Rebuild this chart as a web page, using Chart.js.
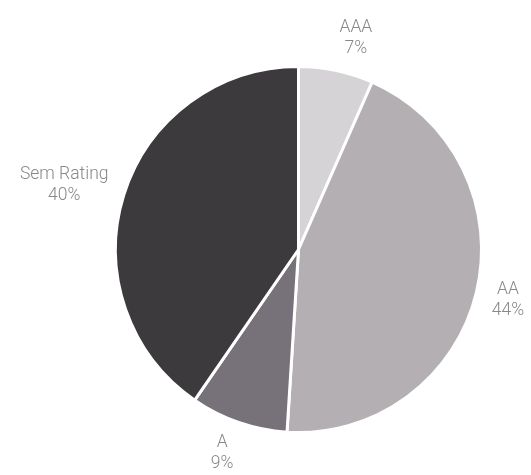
<!DOCTYPE html>
<html lang="pt">
<head>
    <meta charset="UTF-8">
    <title>Rating</title>
    <script src="https://cdn.jsdelivr.net/npm/chart.js"></script>
    <style>
        body {
            margin: 0;
            background: #fff;
        }
        canvas {
            display: block;
        }
    </style>
</head>
<body>
    <canvas id="ratingChart" width="531" height="475"></canvas>

    <script>
        const labels = ['AAA', 'AA', 'A', 'Sem Rating'];
        const shares = [6.6, 44.4, 8.6, 40.4];
        const colors = ['#d5d3d6', '#b3afb2', '#77727a', '#3d3a3e'];

        // draws "name / pct%" outside each slice
        const outsideLabels = {
            id: 'outsideLabels',
            afterDatasetsDraw(chart) {
                const ctx = chart.ctx;
                const meta = chart.getDatasetMeta(0);
                const total = shares.reduce((a, b) => a + b, 0);
                const lineH = 21;
                ctx.save();
                ctx.font = '300 17.5px Roboto';
                ctx.fillStyle = '#888888';
                ctx.textBaseline = 'middle';
                ctx.textAlign = 'center';
                meta.data.forEach((arc, i) => {
                    const p = arc.getProps(['x', 'y', 'startAngle', 'endAngle', 'outerRadius'], true);
                    const mid = (p.startAngle + p.endAngle) / 2;
                    const dx = Math.cos(mid), dy = Math.sin(mid);
                    const d = p.outerRadius + 16;
                    const ax = p.x + dx * d;
                    const ay = p.y + dy * d;
                    const lines = [labels[i], Math.round(shares[i] / total * 100) + '%'];
                    const w = Math.max(...lines.map(l => ctx.measureText(l).width));
                    const h = lines.length * lineH;
                    const cx = dx >= 0 ? ax + w / 2 : ax - w / 2;
                    const cy = ay + dy * h * 0.4;
                    lines.forEach((l, k) => {
                        ctx.fillText(l, cx, cy - h / 2 + lineH * (k + 0.5));
                    });
                });
                ctx.restore();
            }
        };

        new Chart(document.getElementById('ratingChart'), {
            type: 'pie',
            data: {
                labels: labels,
                datasets: [{
                    data: shares,
                    backgroundColor: colors,
                    borderColor: '#ffffff',
                    borderWidth: 3
                }]
            },
            options: {
                responsive: false,
                animation: false,
                layout: {
                    padding: { left: 114, right: 48, top: 65, bottom: 41 }
                },
                plugins: {
                    legend: { display: false },
                    tooltip: { enabled: false }
                }
            },
            plugins: [outsideLabels]
        });
    </script>
</body>
</html>
